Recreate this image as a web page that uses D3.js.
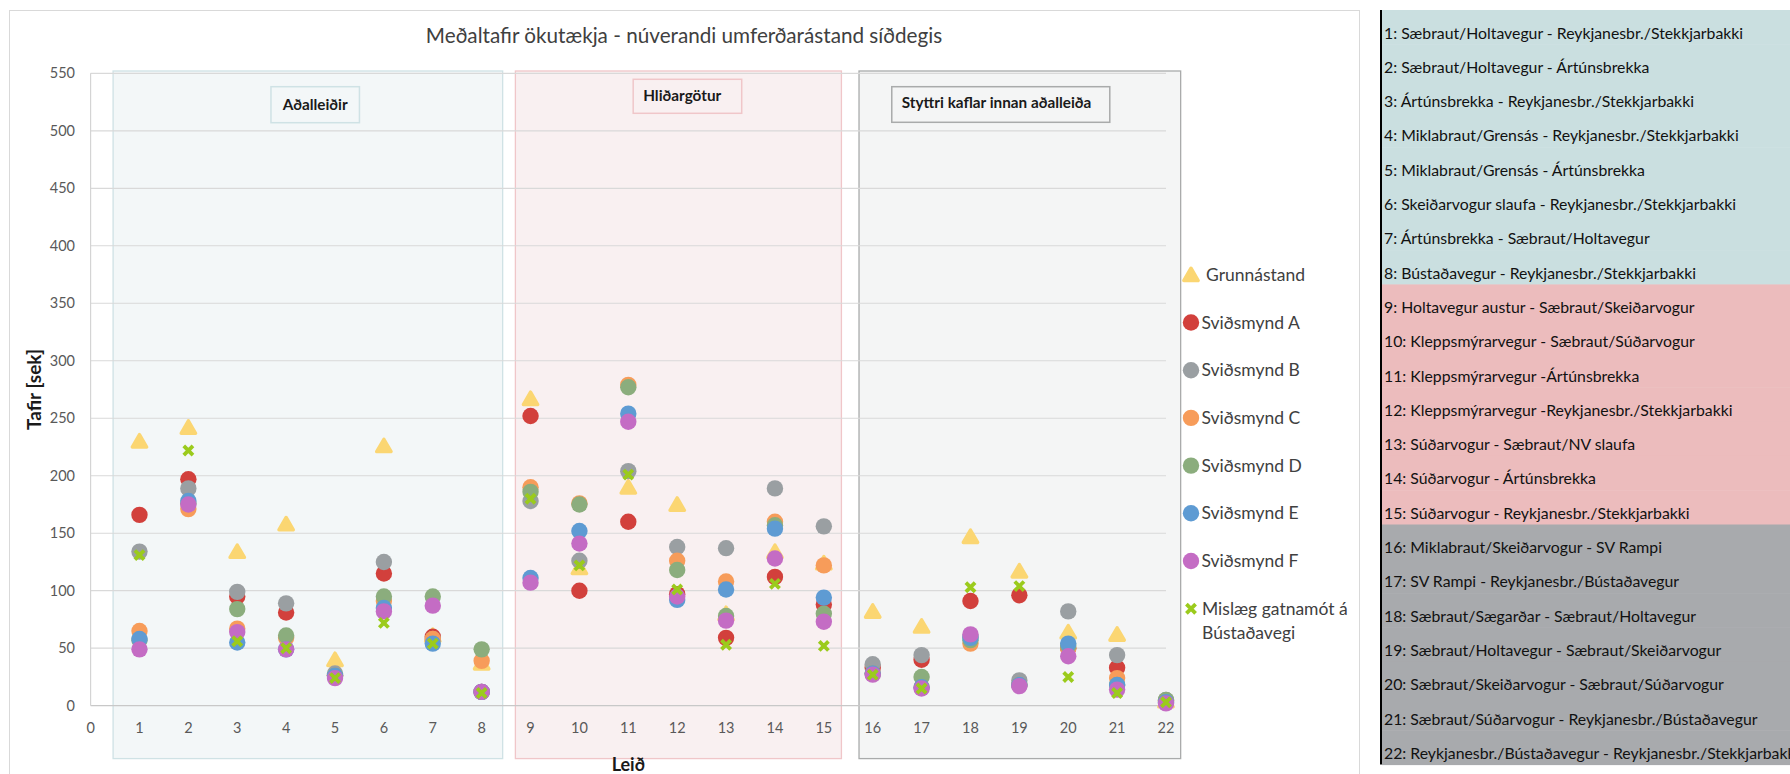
<!DOCTYPE html>
<html>
<head>
<meta charset="utf-8">
<script src="https://cdn.jsdelivr.net/npm/d3@7/dist/d3.min.js"></script>
<style>
  html, body { margin: 0; padding: 0; background: #ffffff; overflow: hidden; }
  svg { display: block; font-family: Lato, "Open Sans", sans-serif; }
</style>
</head>
<body>
<svg id="chart" width="1790" height="774"></svg>
<script>
// Leið numbers 1..22
const routes = d3.range(1, 23);

// Mean vehicle delay [sek] per route and scenario
const grunnastand = [230, 242, 134, 158, 40, 226, 61, 37, 267, 120, 190, 175, 80, 134, 124, 82, 69, 147, 117, 64, 62, 4];
const svidsmyndA  = [166, 197, 95, 81, 26, 115, 60, 12, 252, 100, 160, 97, 59, 112, 88, 33, 40, 91, 96, 50, 33, 4];
const svidsmyndB  = [134, 189, 99, 89, 28, 125, 58, 12, 178, 126, 204, 138, 137, 189, 156, 36, 44, 60, 22, 82, 44, 5];
const svidsmyndC  = [65, 171, 67, 59, 26, 91, 58, 39, 190, 176, 279, 126, 108, 160, 122, 28, 16, 54, 18, 50, 24, 4];
const svidsmyndD  = [57, 176, 84, 61, 26, 95, 95, 49, 186, 175, 277, 118, 78, 157, 80, 28, 25, 57, 18, 52, 18, 5];
const svidsmyndE  = [58, 178, 55, 49, 26, 85, 54, 12, 111, 152, 254, 92, 101, 154, 94, 28, 16, 59, 18, 54, 18, 3];
const svidsmyndF  = [49, 175, 64, 49, 24, 82, 87, 12, 107, 141, 247, 95, 74, 128, 73, 27, 15, 62, 17, 43, 14, 2];
const mislaeg     = [131, 222, 56, 50, 24, 72, 54, 11, 180, 122, 201, 101, 53, 106, 52, 27, 15, 103, 104, 25, 11, 3];

const seriesValues = [grunnastand, svidsmyndA, svidsmyndB, svidsmyndC, svidsmyndD, svidsmyndE, svidsmyndF, mislaeg];
const legendLabels = ["Grunnástand", "Sviðsmynd A", "Sviðsmynd B", "Sviðsmynd C", "Sviðsmynd D", "Sviðsmynd E", "Sviðsmynd F", ["Mislæg gatnamót á", "Bústaðavegi"]];

const yTicks = [0, 50, 100, 150, 200, 250, 300, 350, 400, 450, 500, 550];
const xTicks = d3.range(0, 23);

// Route groups
const groupNames = ["Aðalleiðir", "Hliðargötur", "Styttri kaflar innan aðalleiða"];
const groupFirst = [1, 9, 16];
const groupLast = [8, 15, 22];

// Route descriptions listed beside the chart
const routeNames = [
  "1: Sæbraut/Holtavegur - Reykjanesbr./Stekkjarbakki",
  "2: Sæbraut/Holtavegur - Ártúnsbrekka",
  "3: Ártúnsbrekka - Reykjanesbr./Stekkjarbakki",
  "4: Miklabraut/Grensás - Reykjanesbr./Stekkjarbakki",
  "5: Miklabraut/Grensás - Ártúnsbrekka",
  "6: Skeiðarvogur slaufa - Reykjanesbr./Stekkjarbakki",
  "7: Ártúnsbrekka - Sæbraut/Holtavegur",
  "8: Bústaðavegur - Reykjanesbr./Stekkjarbakki",
  "9: Holtavegur austur - Sæbraut/Skeiðarvogur",
  "10: Kleppsmýrarvegur - Sæbraut/Súðarvogur",
  "11: Kleppsmýrarvegur -Ártúnsbrekka",
  "12: Kleppsmýrarvegur -Reykjanesbr./Stekkjarbakki",
  "13: Súðarvogur - Sæbraut/NV slaufa",
  "14: Súðarvogur - Ártúnsbrekka",
  "15: Súðarvogur - Reykjanesbr./Stekkjarbakki",
  "16: Miklabraut/Skeiðarvogur - SV Rampi",
  "17: SV Rampi - Reykjanesbr./Bústaðavegur",
  "18: Sæbraut/Sægarðar - Sæbraut/Holtavegur",
  "19: Sæbraut/Holtavegur - Sæbraut/Skeiðarvogur",
  "20: Sæbraut/Skeiðarvogur - Sæbraut/Súðarvogur",
  "21: Sæbraut/Súðarvogur - Reykjanesbr./Bústaðavegur",
  "22: Reykjanesbr./Bústaðavegur - Reykjanesbr./Stekkjarbakki"
];

// ---- styling ----
const colors = ["#fbd672", "#d2403c", "#9a9fa2", "#f79c5a", "#8bad7d", "#5e9bd3", "#c46cc4", "#9bcb1c"];
const groupFill = ["#f3f7f8", "#f9f0f1", "#f4f5f5"];
const groupStroke = ["#cfe2e5", "#f0c6c9", "#a9abab"];
const tableFill = ["#cadfe0", "#ecbcbd", "#a8aaad"];

const svg = d3.select("#chart");

const x = d3.scaleLinear().domain([0, 22]).range([90.6, 1166]);
const y = d3.scaleLinear().domain([0, 550]).range([705.7, 73.3]);

// chart frame
svg.append("rect").attr("x", 9.5).attr("y", 10.5).attr("width", 1350).attr("height", 800)
  .attr("fill", "#ffffff").attr("stroke", "#d9d9d9").attr("stroke-width", 1);

// title
svg.append("text").attr("x", 684).attr("y", 43).attr("text-anchor", "middle")
  .attr("font-size", 20.7).attr("fill", "#404040")
  .text("Meðaltafir ökutækja - núverandi umferðarástand síðdegis");

// group bands
const bandPad = [[0.54, 0.43], [0.31, 0.36], [0.28, 0.30]];
const bands = svg.append("g");
groupNames.forEach((g, i) => {
  const x0 = x(groupFirst[i] - bandPad[i][0]);
  const x1 = x(groupLast[i] + bandPad[i][1]);
  bands.append("rect").attr("x", x0).attr("y", y(552)).attr("width", x1 - x0).attr("height", y(-46) - y(552))
    .attr("fill", groupFill[i]).attr("stroke", groupStroke[i]).attr("stroke-width", 1.3);
});

// gridlines
svg.append("g").selectAll("line").data(yTicks.filter(d => d > 0)).join("line")
  .attr("x1", x(0)).attr("x2", x(22)).attr("y1", d => y(d)).attr("y2", d => y(d))
  .attr("stroke", "#d9d9d9").attr("stroke-width", 1.2);

// axes lines
svg.append("line").attr("x1", x(0)).attr("x2", x(22)).attr("y1", y(0)).attr("y2", y(0))
  .attr("stroke", "#c8c8c8").attr("stroke-width", 1.3);
svg.append("line").attr("x1", x(0)).attr("x2", x(0)).attr("y1", y(550)).attr("y2", y(0))
  .attr("stroke", "#d4d4d4").attr("stroke-width", 1.2);

// group label boxes
const labelBoxes = [
  { x0: 3.69, x1: 5.5, y0: 86.7, y1: 122.7, tx: "middle", ty: 110 },
  { x0: 11.1, x1: 13.32, y0: 79.3, y1: 113.3, tx: "start", ty: 101 },
  { x0: 16.39, x1: 20.85, y0: 86.7, y1: 122.3, tx: "start", ty: 108 }
];
labelBoxes.forEach((b, i) => {
  const bx0 = x(b.x0), bx1 = x(b.x1);
  svg.append("rect").attr("x", bx0).attr("y", b.y0).attr("width", bx1 - bx0).attr("height", b.y1 - b.y0)
    .attr("fill", groupFill[i]).attr("stroke", groupStroke[i]).attr("stroke-width", 1.5);
  svg.append("text")
    .attr("x", b.tx === "middle" ? (bx0 + bx1) / 2 : bx0 + 10)
    .attr("y", b.ty).attr("text-anchor", b.tx)
    .attr("font-size", 15.3).attr("font-weight", "bold").attr("fill", "#1a1a1a")
    .text(groupNames[i]);
});

// y tick labels
svg.append("g").selectAll("text").data(yTicks).join("text")
  .attr("x", 75).attr("y", d => y(d) + 5).attr("text-anchor", "end")
  .attr("font-size", 14.5).attr("fill", "#595959").text(d => d);

// x tick labels
svg.append("g").selectAll("text").data(xTicks).join("text")
  .attr("x", d => x(d)).attr("y", 733).attr("text-anchor", "middle")
  .attr("font-size", 14.5).attr("fill", "#595959").text(d => d);

// axis titles
svg.append("text").attr("transform", `translate(41,${(y(0) + y(550)) / 2}) rotate(-90)`)
  .attr("text-anchor", "middle").attr("font-size", 19).attr("font-weight", "bold").attr("fill", "#1a1a1a")
  .text("Tafir [sek]");
svg.append("text").attr("x", (x(0) + x(22)) / 2).attr("y", 771).attr("text-anchor", "middle")
  .attr("font-size", 18).attr("font-weight", "bold").attr("fill", "#1a1a1a").text("Leið");

// marker shapes
const triPath = "M0,-6.6L7.2,5.8L-7.2,5.8Z";
const crossPath = "M-4.6,-4.6L4.6,4.6M-4.6,4.6L4.6,-4.6";
function drawMarker(g, k) {
  if (k === 0) {
    g.append("path").attr("d", triPath).attr("fill", colors[k]).attr("stroke", colors[k])
      .attr("stroke-width", 3.4).attr("stroke-linejoin", "round");
  } else if (k === 7) {
    g.append("path").attr("d", crossPath).attr("fill", "none").attr("stroke", colors[k])
      .attr("stroke-width", 3.8);
  } else {
    g.append("circle").attr("r", 8.2).attr("fill", colors[k]);
  }
}

// data points, drawn series by series
const pts = svg.append("g");
seriesValues.forEach((vals, k) => {
  vals.forEach((v, i) => {
    const g = pts.append("g").attr("transform", `translate(${x(routes[i])},${y(v)})`);
    drawMarker(g, k);
  });
});

// legend
const legend = svg.append("g");
legendLabels.forEach((lab, k) => {
  const ly = 274.8 + k * 47.7;
  const g = legend.append("g").attr("transform", `translate(1191,${ly})`);
  drawMarker(g, k);
  const t = legend.append("text").attr("x", k === 0 ? 1206 : 1201.5).attr("y", ly + 6)
    .attr("font-size", 17.5).attr("fill", "#404040");
  if (Array.isArray(lab)) {
    t.append("tspan").attr("x", 1202).text(lab[0]);
    t.append("tspan").attr("x", 1202).attr("dy", 24).text(lab[1]);
  } else {
    t.text(lab);
  }
});

// route description table
const rowH = 34.3, tableTop = 10, tableLeft = 1382;
const tbl = svg.append("g");
routeNames.forEach((name, i) => {
  const gi = groupFirst.filter(f => routes[i] >= f).length - 1;
  tbl.append("rect").attr("x", tableLeft).attr("y", tableTop + i * rowH)
    .attr("width", 1790 - tableLeft).attr("height", rowH + 0.5).attr("fill", tableFill[gi]);
  tbl.append("text").attr("x", 1384).attr("y", tableTop + i * rowH + 28.5)
    .attr("font-size", 15.8).attr("fill", "#111111").text(name);
});
tbl.append("line").attr("x1", 1381).attr("x2", 1381).attr("y1", tableTop).attr("y2", tableTop + routeNames.length * rowH)
  .attr("stroke", "#000000").attr("stroke-width", 2);
</script>
</body>
</html>
